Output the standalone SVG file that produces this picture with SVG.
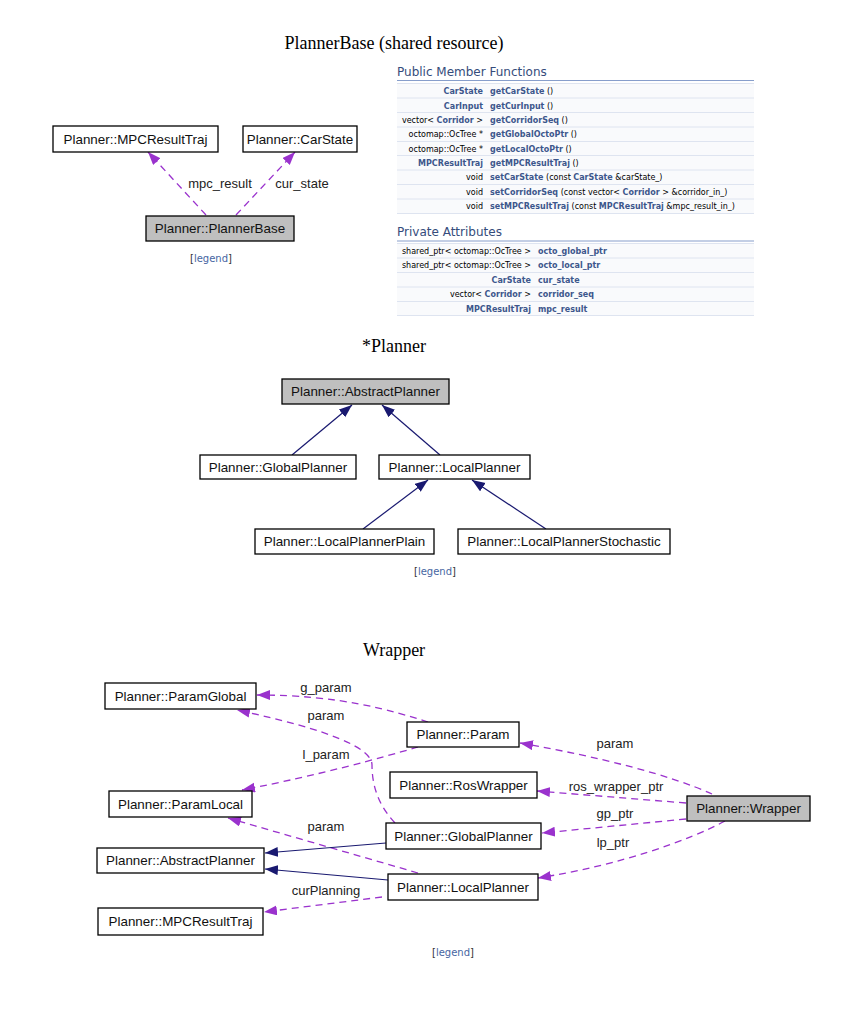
<svg xmlns="http://www.w3.org/2000/svg" width="867" height="1016" viewBox="0 0 867 1016">
<style>
.title{font-family:"Liberation Serif",serif;font-size:18px;fill:#000;text-anchor:middle}
.node rect{fill:#fff;stroke:#000;stroke-width:1.3}
.node.sel rect{fill:#bfbfbf}
.node text{font-family:"Liberation Sans",Arial,sans-serif;font-size:13.4px;fill:#111;text-anchor:middle}
.lbl{font-family:"Liberation Sans",Arial,sans-serif;font-size:13px;fill:#222;text-anchor:middle}
.dash{fill:none;stroke:#9a32cd;stroke-width:1.3;stroke-dasharray:7,5;marker-end:url(#ap)}
.inh{fill:none;stroke:#191970;stroke-width:1.2;marker-end:url(#an)}
.legend{font-family:"DejaVu Sans",sans-serif;font-size:10px;fill:#333;text-anchor:middle}
.legend tspan.l{fill:#4665a2}
.hd{font-family:"DejaVu Sans",sans-serif;font-size:12px;fill:#354c7b}
.tb{font-family:"DejaVu Sans",sans-serif;font-size:8px;fill:#000}
.tb .k{font-weight:bold;fill:#3d578c}
.row{fill:#f9fafc}
.sep{stroke:#dee4f0;stroke-width:1}
.hl{stroke:#879ecb;stroke-width:1}
</style>
<defs>
<marker id="ap" markerUnits="userSpaceOnUse" markerWidth="14" markerHeight="11" refX="13" refY="5" orient="auto"><path d="M0,0 L13,5 L0,10 z" fill="#9a32cd"/></marker>
<marker id="an" markerUnits="userSpaceOnUse" markerWidth="14" markerHeight="11" refX="13" refY="5" orient="auto"><path d="M0,0 L13,5 L0,10 z" fill="#191970"/></marker>
</defs>
<rect width="867" height="1016" fill="#fff"/>

<!-- Section 1 -->
<text class="title" x="394" y="49">PlannerBase (shared resource)</text>
<g id="connectors1">
<path class="dash" d="M206,215 L148,152"/>
<path class="dash" d="M236,215 L295,152"/>
<text class="lbl" x="220" y="188">mpc_result</text>
<text class="lbl" x="302" y="188">cur_state</text>
</g>
<g id="pb_mpc" class="node"><rect x="53" y="126" width="165" height="26"/><text x="135.5" y="143.5">Planner::MPCResultTraj</text></g>
<g id="pb_carstate" class="node"><rect x="243" y="126" width="114" height="26"/><text x="300" y="143.5">Planner::CarState</text></g>
<g id="pb_base" class="node sel"><rect x="146" y="216" width="148" height="25"/><text x="220" y="233">Planner::PlannerBase</text></g>
<text class="legend" x="211" y="262">[<tspan class="l">legend</tspan>]</text>

<!-- Member table -->
<g id="table">
<text class="hd" x="397" y="76">Public Member Functions</text>
<line class="hl" x1="397" y1="80.5" x2="754" y2="80.5"/>
<rect class="row" x="397" y="83" width="357" height="131"/>
<g class="sep">
<line x1="397" y1="83.5" x2="754" y2="83.5"/>
<line x1="397" y1="98" x2="754" y2="98"/>
<line x1="397" y1="112.5" x2="754" y2="112.5"/>
<line x1="397" y1="127" x2="754" y2="127"/>
<line x1="397" y1="141.5" x2="754" y2="141.5"/>
<line x1="397" y1="155.5" x2="754" y2="155.5"/>
<line x1="397" y1="170" x2="754" y2="170"/>
<line x1="397" y1="184.5" x2="754" y2="184.5"/>
<line x1="397" y1="199" x2="754" y2="199"/>
<line x1="397" y1="213.5" x2="754" y2="213.5"/>
</g>
<g class="tb">
<text x="483" y="94" text-anchor="end"><tspan class="k">CarState</tspan></text>
<text x="490" y="94"><tspan class="k">getCarState</tspan> ()</text>
<text x="483" y="108.5" text-anchor="end"><tspan class="k">CarInput</tspan></text>
<text x="490" y="108.5"><tspan class="k">getCurInput</tspan> ()</text>
<text x="483" y="123" text-anchor="end">vector&lt; <tspan class="k">Corridor</tspan> &gt;</text>
<text x="490" y="123"><tspan class="k">getCorridorSeq</tspan> ()</text>
<text x="483" y="137" text-anchor="end">octomap::OcTree *</text>
<text x="490" y="137"><tspan class="k">getGlobalOctoPtr</tspan> ()</text>
<text x="483" y="151.5" text-anchor="end">octomap::OcTree *</text>
<text x="490" y="151.5"><tspan class="k">getLocalOctoPtr</tspan> ()</text>
<text x="483" y="166" text-anchor="end"><tspan class="k">MPCResultTraj</tspan></text>
<text x="490" y="166"><tspan class="k">getMPCResultTraj</tspan> ()</text>
<text x="483" y="180" text-anchor="end">void</text>
<text x="490" y="180"><tspan class="k">setCarState</tspan> (const <tspan class="k">CarState</tspan> &amp;carState_)</text>
<text x="483" y="194.5" text-anchor="end">void</text>
<text x="490" y="194.5"><tspan class="k">setCorridorSeq</tspan> (const vector&lt; <tspan class="k">Corridor</tspan> &gt; &amp;corridor_in_)</text>
<text x="483" y="209" text-anchor="end">void</text>
<text x="490" y="209"><tspan class="k">setMPCResultTraj</tspan> (const <tspan class="k">MPCResultTraj</tspan> &amp;mpc_result_in_)</text>
</g>
<text class="hd" x="397" y="236">Private Attributes</text>
<line class="hl" x1="397" y1="241" x2="754" y2="241"/>
<rect class="row" x="397" y="243" width="357" height="73"/>
<g class="sep">
<line x1="397" y1="243.5" x2="754" y2="243.5"/>
<line x1="397" y1="258" x2="754" y2="258"/>
<line x1="397" y1="272.5" x2="754" y2="272.5"/>
<line x1="397" y1="287" x2="754" y2="287"/>
<line x1="397" y1="301.5" x2="754" y2="301.5"/>
<line x1="397" y1="315.5" x2="754" y2="315.5"/>
</g>
<g class="tb">
<text x="531" y="253.5" text-anchor="end">shared_ptr&lt; octomap::OcTree &gt;</text>
<text x="538" y="253.5"><tspan class="k">octo_global_ptr</tspan></text>
<text x="531" y="268" text-anchor="end">shared_ptr&lt; octomap::OcTree &gt;</text>
<text x="538" y="268"><tspan class="k">octo_local_ptr</tspan></text>
<text x="531" y="282.5" text-anchor="end"><tspan class="k">CarState</tspan></text>
<text x="538" y="282.5"><tspan class="k">cur_state</tspan></text>
<text x="531" y="297" text-anchor="end">vector&lt; <tspan class="k">Corridor</tspan> &gt;</text>
<text x="538" y="297"><tspan class="k">corridor_seq</tspan></text>
<text x="531" y="311.5" text-anchor="end"><tspan class="k">MPCResultTraj</tspan></text>
<text x="538" y="311.5"><tspan class="k">mpc_result</tspan></text>
</g>
</g>

<!-- Section 2 -->
<text class="title" x="394" y="352">*Planner</text>
<g id="connectors2">
<path class="inh" d="M292,455 L352,405"/>
<path class="inh" d="M440,455 L382,405"/>
<path class="inh" d="M363,529 L428,480"/>
<path class="inh" d="M546,529 L472,480"/>
</g>
<g id="p_abstract" class="node sel"><rect x="282" y="379" width="167" height="25"/><text x="365.5" y="396">Planner::AbstractPlanner</text></g>
<g id="p_global" class="node"><rect x="200" y="455" width="156" height="24"/><text x="278" y="471.5">Planner::GlobalPlanner</text></g>
<g id="p_local" class="node"><rect x="379" y="455" width="151" height="24"/><text x="454.5" y="471.5">Planner::LocalPlanner</text></g>
<g id="p_plain" class="node"><rect x="255" y="529" width="179" height="25"/><text x="344.5" y="546">Planner::LocalPlannerPlain</text></g>
<g id="p_stoch" class="node"><rect x="458" y="529" width="212" height="25"/><text x="564" y="546">Planner::LocalPlannerStochastic</text></g>
<text class="legend" x="435" y="575">[<tspan class="l">legend</tspan>]</text>

<!-- Section 3 -->
<text class="title" x="394" y="656">Wrapper</text>
<g id="connectors3">
<path class="dash" d="M428,722 C390,710 340,695 257,695"/>
<path class="dash" d="M395,823 C378,805 372,785 372,765 C372,748 330,730 237,710"/>
<path class="dash" d="M418,747 C380,758 320,775 242,790"/>
<path class="dash" d="M418,873 L228,818"/>
<path class="inh" d="M386,843 L265,853"/>
<path class="inh" d="M388,880 L265,869"/>
<path class="dash" d="M382,897 L264,912"/>
<path class="dash" d="M712,794 C670,775 600,757 520,743"/>
<path class="dash" d="M686,803 L537,791"/>
<path class="dash" d="M686,819 L542,833"/>
<path class="dash" d="M725,821 C690,840 620,865 538,878"/>
<text class="lbl" x="326" y="692">g_param</text>
<text class="lbl" x="326" y="720">param</text>
<text class="lbl" x="326" y="759">l_param</text>
<text class="lbl" x="326" y="831">param</text>
<text class="lbl" x="326" y="895">curPlanning</text>
<text class="lbl" x="615" y="748">param</text>
<text class="lbl" x="616" y="791">ros_wrapper_ptr</text>
<text class="lbl" x="615" y="818">gp_ptr</text>
<text class="lbl" x="613" y="847">lp_ptr</text>
</g>
<g id="w_paramglobal" class="node"><rect x="105" y="683" width="151" height="26"/><text x="180.5" y="700.5">Planner::ParamGlobal</text></g>
<g id="w_param" class="node"><rect x="407" y="722" width="112" height="25"/><text x="463" y="739">Planner::Param</text></g>
<g id="w_roswrapper" class="node"><rect x="390" y="772" width="147" height="26"/><text x="463.5" y="789.5">Planner::RosWrapper</text></g>
<g id="w_paramlocal" class="node"><rect x="109" y="791" width="143" height="26"/><text x="180.5" y="808.5">Planner::ParamLocal</text></g>
<g id="w_global" class="node"><rect x="386" y="823" width="155" height="26"/><text x="463.5" y="840.5">Planner::GlobalPlanner</text></g>
<g id="w_abstract" class="node"><rect x="97" y="848" width="167" height="25"/><text x="180.5" y="865">Planner::AbstractPlanner</text></g>
<g id="w_local" class="node"><rect x="388" y="874" width="150" height="26"/><text x="463" y="891.5">Planner::LocalPlanner</text></g>
<g id="w_mpc" class="node"><rect x="98" y="908" width="165" height="27"/><text x="180.5" y="926">Planner::MPCResultTraj</text></g>
<g id="w_wrapper" class="node sel"><rect x="687" y="796" width="123" height="25"/><text x="748.5" y="813">Planner::Wrapper</text></g>
<text class="legend" x="453" y="956">[<tspan class="l">legend</tspan>]</text>
</svg>
